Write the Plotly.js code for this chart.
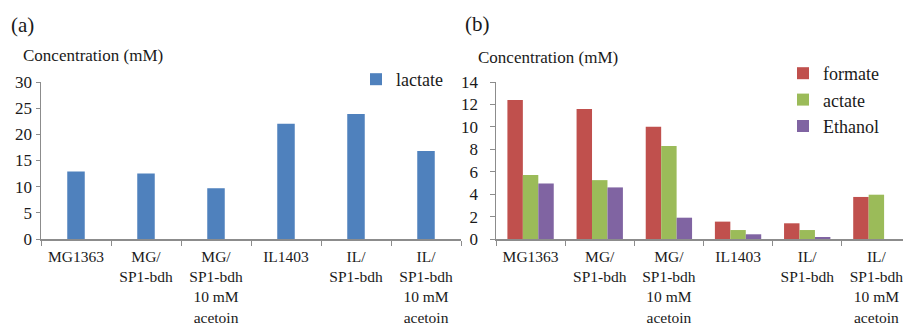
<!DOCTYPE html>
<html>
<head>
<meta charset="utf-8">
<script src="https://cdn.plot.ly/plotly-3.0.1.min.js"></script>
<style>html,body{margin:0;padding:0;background:#fff;}#chart{width:903px;height:325px;}</style>
</head>
<body>
<div id="chart"></div>
<script>
// ---- data ----
var categories = ['MG1363', 'MG/SP1-bdh', 'MG/SP1-bdh 10 mM acetoin', 'IL1403', 'IL/SP1-bdh', 'IL/SP1-bdh 10 mM acetoin'];
var tickLabels = ['MG1363', 'MG/<br>SP1-bdh', 'MG/<br>SP1-bdh<br>10 mM<br>acetoin', 'IL1403', 'IL/<br>SP1-bdh', 'IL/<br>SP1-bdh<br>10 mM<br>acetoin'];
var lactate = [12.9, 12.5, 9.7, 22.0, 23.9, 16.8];
var formate = [12.4, 11.6, 10.0, 1.55, 1.4, 3.75];
var actate  = [5.7, 5.25, 8.3, 0.8, 0.8, 3.95];
var ethanol = [4.95, 4.6, 1.9, 0.42, 0.18, 0];
var yTicksA = [0, 5, 10, 15, 20, 25, 30];
var yTicksB = [0, 2, 4, 6, 8, 10, 12, 14];

var W = 903, H = 325;
var FONT = '"Liberation Serif", serif';
var TXT = '#1a1a1a';
var AX = '#8c8c8c';

var traces = [
  {type: 'bar', x: categories, y: lactate, name: 'lactate', xaxis: 'x', yaxis: 'y',
   marker: {color: '#4F81BD'}, width: 0.25, legend: 'legend'},
  {type: 'bar', x: categories, y: formate, name: 'formate', xaxis: 'x2', yaxis: 'y2',
   marker: {color: '#C0504D'}, legend: 'legend2', legendgroup: 'f'},
  {type: 'bar', x: categories, y: actate, name: 'actate', xaxis: 'x2', yaxis: 'y2',
   marker: {color: '#9BBB59'}, legend: 'legend2', legendgroup: 'a'},
  {type: 'bar', x: categories, y: ethanol, name: 'Ethanol', xaxis: 'x2', yaxis: 'y2',
   marker: {color: '#8064A2'}, legend: 'legend2', legendgroup: 'e'}
];

function px(x) { return x / W; }
function py(y) { return 1 - y / H; }

var xCommon = {
  type: 'category', tickmode: 'array', tickvals: categories, ticktext: tickLabels,
  tickson: 'boundaries', ticks: 'outside', ticklen: 5, tickcolor: AX, tickwidth: 1,
  showline: true, linecolor: AX, linewidth: 1.5, showgrid: false, zeroline: false,
  ticklabelstandoff: 3, tickangle: 0,
  tickfont: {family: FONT, size: 15.5, color: TXT}, fixedrange: true, automargin: false
};
var yCommon = {
  ticks: 'outside', ticklen: 4, tickcolor: AX, tickwidth: 1,
  showline: true, linecolor: AX, linewidth: 1.5, showgrid: false, zeroline: false,
  tickfont: {family: FONT, size: 17, color: TXT}, fixedrange: true, automargin: false
};

var layout = {
  width: W, height: H,
  margin: {l: 0, r: 0, t: 0, b: 0},
  paper_bgcolor: '#fff', plot_bgcolor: '#fff',
  barmode: 'group', bargap: 0.33, bargroupgap: 0,
  showlegend: true,
  xaxis: Object.assign({}, xCommon, {domain: [px(41), px(461)], anchor: 'y', range: [-0.5, 5.5]}),
  yaxis: Object.assign({}, yCommon, {domain: [py(239), py(82)], anchor: 'x', range: [0, 30],
    tickmode: 'array', tickvals: yTicksA}),
  xaxis2: Object.assign({}, xCommon, {domain: [px(496), 1], anchor: 'y2', range: [-0.5, 5.385]}),
  yaxis2: Object.assign({}, yCommon, {domain: [py(239), py(82)], anchor: 'x2', range: [0, 14],
    tickmode: 'array', tickvals: yTicksB, ticklen: 5, ticklabelstandoff: 8}),
  legend: {x: px(356), y: py(61), xanchor: 'left', yanchor: 'top', bgcolor: 'rgba(0,0,0,0)',
    font: {family: FONT, size: 18, color: TXT}, itemclick: false, itemdoubleclick: false},
  legend2: {x: px(783), y: py(55), xanchor: 'left', yanchor: 'top', bgcolor: 'rgba(0,0,0,0)',
    traceorder: 'grouped', tracegroupgap: 0,
    font: {family: FONT, size: 18, color: TXT}, itemclick: false, itemdoubleclick: false},
  annotations: [
    {text: '(a)', xref: 'paper', yref: 'paper', x: px(9), y: py(25), xanchor: 'left', yanchor: 'middle',
     showarrow: false, font: {family: FONT, size: 21, color: TXT}},
    {text: '(b)', xref: 'paper', yref: 'paper', x: px(463), y: py(24), xanchor: 'left', yanchor: 'middle',
     showarrow: false, font: {family: FONT, size: 21, color: TXT}},
    {text: 'Concentration (mM)', xref: 'paper', yref: 'paper', x: px(21), y: py(56), xanchor: 'left', yanchor: 'middle',
     showarrow: false, font: {family: FONT, size: 17, color: TXT}},
    {text: 'Concentration (mM)', xref: 'paper', yref: 'paper', x: px(476), y: py(58), xanchor: 'left', yanchor: 'middle',
     showarrow: false, font: {family: FONT, size: 17, color: TXT}}
  ]
};

Plotly.newPlot('chart', traces, layout, {displayModeBar: false, staticPlot: true});
</script>
</body>
</html>
